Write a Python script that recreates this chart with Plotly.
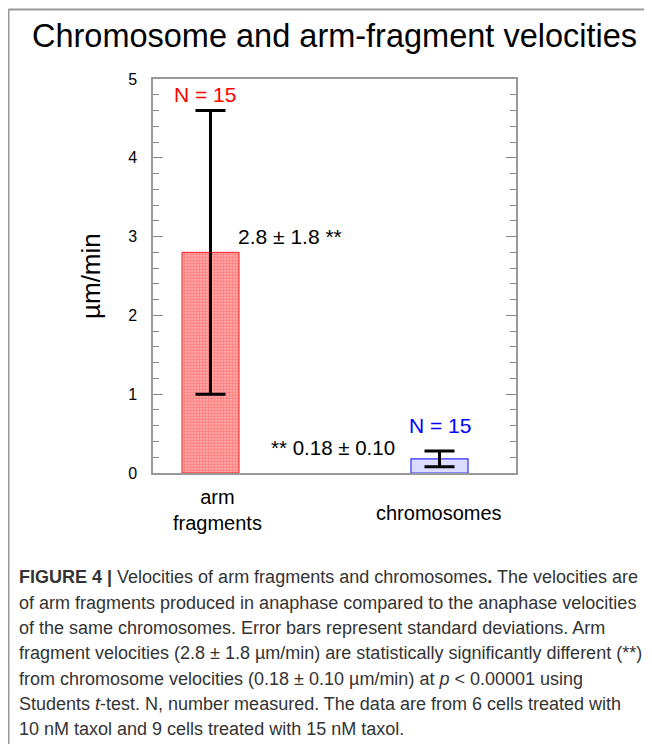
import plotly.graph_objects as go

# ---- data ----
categories = ["arm<br>fragments", "chromosomes"]
means = [2.8, 0.18]
sds = [1.8, 0.10]
n_measured = [15, 15]
value_labels = ["2.8 ± 1.8 **", "** 0.18 ± 0.10"]
y_ticks = [0, 1, 2, 3, 4, 5]

OFF = 8  # page body margin
W, H = 644, 736
# plot area in screenshot pixels
PL, PR, PT, PB = 153, 516, 79, 473


def px(xp):
    return (xp - PL) / (PR - PL)


def py(yp):
    return (PB - yp) / (PB - PT)


FONT = "Liberation Sans, Arial, Helvetica, sans-serif"
xpos = [0, 1]

fig = go.Figure()
fig.add_trace(go.Bar(
    x=[xpos[0]], y=[means[0]], width=0.249,
    marker=dict(color="#ffc0c0",
                line=dict(color="#ff2020", width=1),
                pattern=dict(shape=".", size=3, solidity=0.7,
                             fgcolor="#ff3c3c", bgcolor="#ffc4c4")),
    error_y=dict(type="data", array=[sds[0]], color="black", thickness=3, width=15),
    showlegend=False, hoverinfo="skip",
))
fig.add_trace(go.Bar(
    x=[xpos[1]], y=[means[1]], width=0.249,
    marker=dict(color="#dcdcff", line=dict(color="#3030ff", width=1.2)),
    error_y=dict(type="data", array=[sds[1]], color="black", thickness=3, width=15),
    showlegend=False, hoverinfo="skip",
))

ann = []
# N labels
ann.append(dict(x=xpos[0], y=4.80, xshift=-5, xanchor="center", yanchor="middle",
                text=f"N = {n_measured[0]}", showarrow=False,
                font=dict(size=21, color="#ff0000", family=FONT)))
ann.append(dict(x=xpos[1], y=0.60, xanchor="center", yanchor="middle",
                text=f"N = {n_measured[1]}", showarrow=False,
                font=dict(size=21, color="#0000ff", family=FONT)))
# value labels
ann.append(dict(x=0.111, y=3.0, xanchor="left", yanchor="middle", text=value_labels[0],
                showarrow=False, font=dict(size=21, color="black", family=FONT)))
ann.append(dict(x=0.814, y=0.32, xanchor="right", yanchor="middle", text=value_labels[1],
                showarrow=False, font=dict(size=20.5, color="black", family=FONT)))
# category labels
ann.append(dict(xref="paper", yref="paper", x=px(217), y=py(510), xanchor="center",
                yanchor="middle", text=categories[0], showarrow=False,
                font=dict(size=20, color="black", family=FONT)))
ann.append(dict(xref="paper", yref="paper", x=px(439), y=py(513), xanchor="center",
                yanchor="middle", text=categories[1], showarrow=False,
                font=dict(size=20, color="black", family=FONT)))
# y axis title
ann.append(dict(xref="paper", yref="paper", x=px(91), y=py(276), xanchor="center",
                yanchor="middle", text="µm/min", textangle=-90, showarrow=False,
                font=dict(size=26, color="black", family=FONT)))

caption = [
    "<b>FIGURE 4 |</b> Velocities of arm fragments and chromosomes<b>.</b> The velocities are",
    "of arm fragments produced in anaphase compared to the anaphase velocities",
    "of the same chromosomes. Error bars represent standard deviations. Arm",
    "fragment velocities (2.8 ± 1.8 µm/min) are statistically significantly different (**)",
    "from chromosome velocities (0.18 ± 0.10 µm/min) at <i>p</i> < 0.00001 using",
    "Students <i>t</i>-test. N, number measured. The data are from 6 cells treated with",
    "10 nM taxol and 9 cells treated with 15 nM taxol.",
]
cap_y = [577, 602.5, 628, 653, 678.5, 704, 729]
for t, yy in zip(caption, cap_y):
    ann.append(dict(xref="paper", yref="paper", x=px(17), y=py(yy), xanchor="left",
                    yanchor="middle", text=t, showarrow=False,
                    font=dict(size=18, color="#333333", family=FONT)))

shapes = [
    dict(type="line", xref="paper", yref="paper", x0=px(8.5), x1=px(660), y0=py(9.5), y1=py(9.5),
         line=dict(color="#999999", width=2)),
    dict(type="line", xref="paper", yref="paper", x0=px(8.5), x1=px(8.5), y0=py(9.5), y1=py(760),
         line=dict(color="#999999", width=2)),
]

fig.update_layout(
    width=W, height=H,
    margin=dict(l=PL - OFF, r=W - (PR - OFF), t=PT - OFF, b=H - (PB - OFF), pad=0),
    paper_bgcolor="white", plot_bgcolor="white",
    title=dict(text="Chromosome and arm-fragment velocities", x=(334.5 - OFF) / W,
               xanchor="center", y=1 - (36 - OFF) / H, yanchor="middle",
               font=dict(size=32.5, color="black", family=FONT)),
    xaxis=dict(range=[-0.251, 1.334], showticklabels=False, ticks="", showgrid=False,
               zeroline=False, showline=True, mirror=True, linecolor="#999999", linewidth=1.5),
    yaxis=dict(range=[0, 5], tickvals=y_ticks, ticks="inside", ticklen=10, tickwidth=1,
               tickcolor="#888888", showgrid=False, zeroline=False, showline=True,
               mirror="allticks", linecolor="#999999", linewidth=1.5,
               tickfont=dict(size=16, color="black", family=FONT), ticklabelstandoff=11,
               minor=dict(dtick=0.2, ticks="inside", ticklen=6, tickcolor="#888888", tickwidth=1)),
    annotations=ann, shapes=shapes,
)

fig.write_html("out.html")
